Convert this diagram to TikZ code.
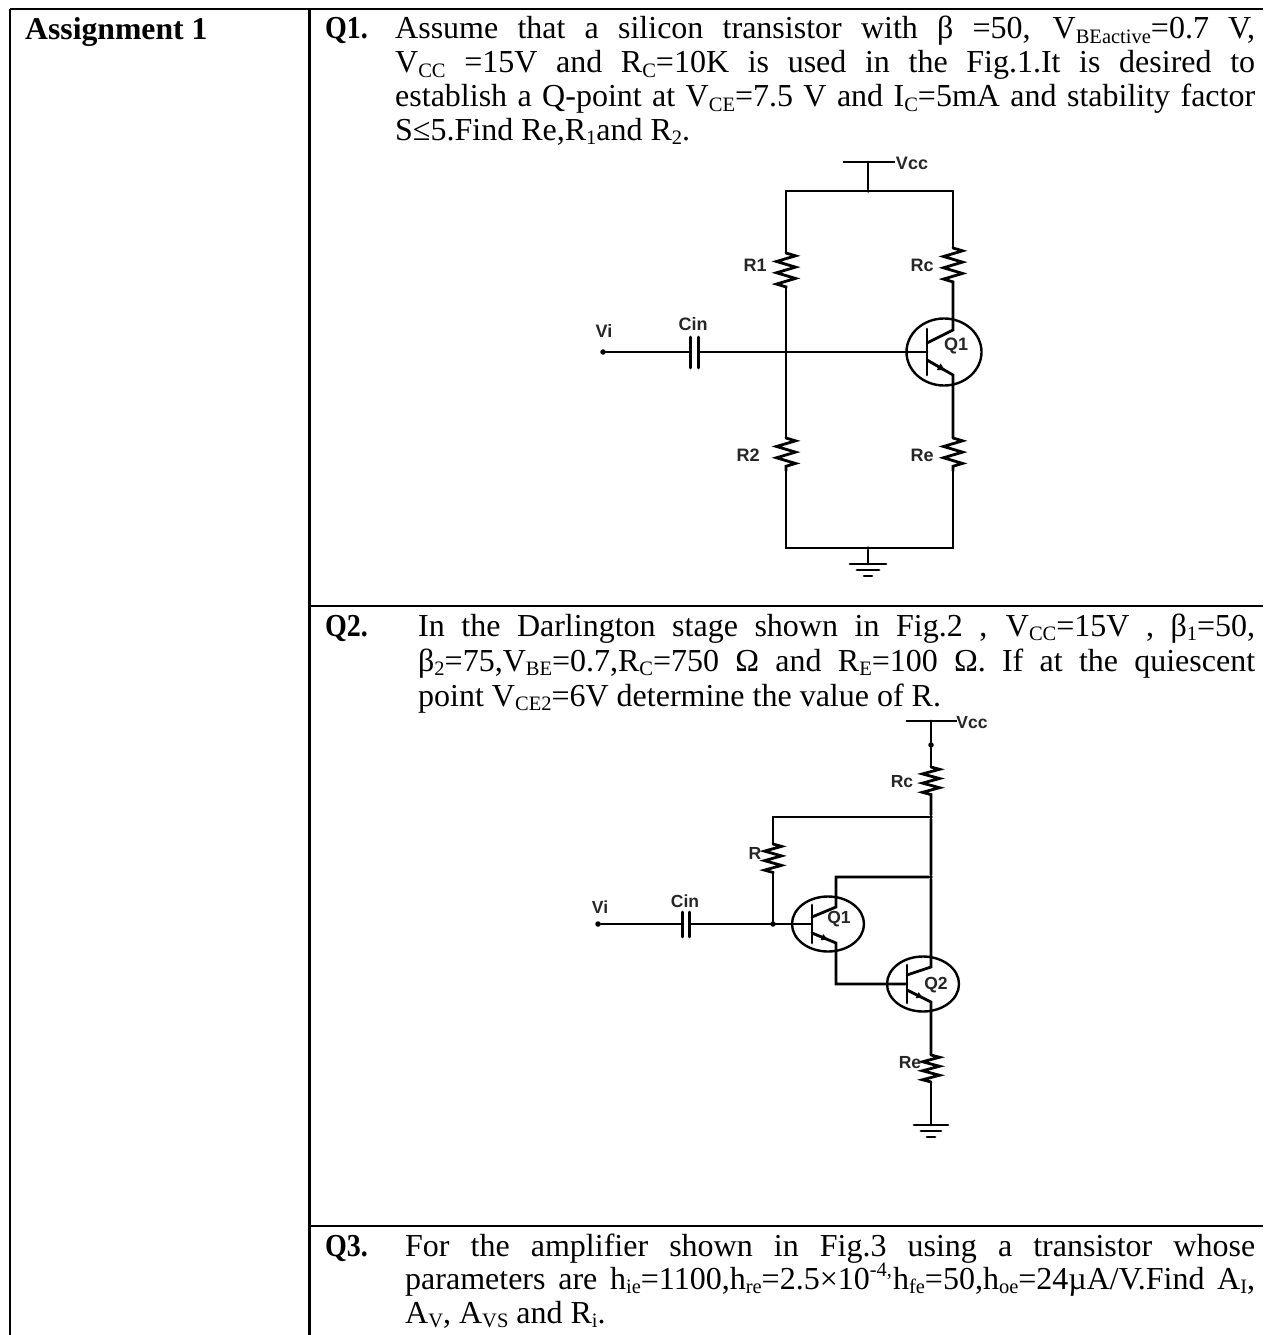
\documentclass[tikz,border=0pt]{standalone}
\usepackage{fontspec}
\setmainfont{Liberation Serif}
\newfontfamily\labfont{Liberation Sans}
\usetikzlibrary{shapes.geometric,decorations.pathmorphing,arrows.meta,calc}
\newcommand\sbs[1]{\raisebox{-0.14em}{\fontsize{20.5}{20.5}\selectfont #1}}
\newcommand\sps[1]{\raisebox{0.42em}{\fontsize{20.5}{20.5}\selectfont #1}}
\newcommand\qtxt[1]{\scalebox{.875}[1]{#1}}
\tikzset{
  rule/.style={line width=2.6pt,black},
  wire/.style={line width=2.8pt,black,line cap=round,line join=miter},
  thinw/.style={line width=2.2pt,black},
  txt/.style={anchor=base west,inner sep=0pt,font=\fontsize{32}{32}\selectfont},
  hd/.style={anchor=base west,inner sep=0pt,font=\fontsize{31.7}{31.7}\selectfont\bfseries},
  qlab/.style={anchor=base west,inner sep=0pt,font=\fontsize{32}{32}\selectfont\bfseries},
  lab/.style={inner sep=0pt,font=\labfont\bfseries\fontsize{18}{18}\selectfont,text=black!85},
  labs/.style={inner sep=0pt,font=\labfont\bfseries\fontsize{17.5}{17.5}\selectfont,text=black!85},
  dot/.style={circle,fill=black,inner sep=0pt,minimum size=5.5pt},
  res/.style={decorate,decoration={zigzag,amplitude=#1,segment length=11.3pt}},
  res/.default=9.5pt,
  trans/.style={ellipse,draw,line width=2.4pt,inner sep=0pt,minimum width=75pt,minimum height=67pt},
  transs/.style={ellipse,draw,line width=2.4pt,inner sep=0pt,minimum width=72pt,minimum height=55pt},
}
\begin{document}
\begin{tikzpicture}[x=1pt,y=-1pt]
\useasboundingbox (0,0) rectangle (1263,1335);
\fill[white] (0,0) rectangle (1263,1335);
% table
\coordinate (tl) at (10,9); \coordinate (tr) at (1263,9);
\coordinate (bl) at (10,1335); \coordinate (st) at (309.5,9); \coordinate (sb) at (309.5,1335);
\coordinate (r1) at (309.5,606); \coordinate (r1e) at (1263,606);
\coordinate (r2) at (309.5,1226); \coordinate (r2e) at (1263,1226);
\draw[rule] (tl) -- (tr);
\draw[rule] (tl) -- (bl);
\draw[rule] (st) -- (sb);
\draw[rule] (r1) -- (r1e);
\draw[rule] (r2) -- (r2e);
% texts
\node[hd] (head) at (25,40) {Assignment 1};
\node[qlab] (q1t) at (325,39) {\qtxt{Q1.}};
\node[txt] (a1) at (395,39) {\hbox to 860pt{Assume that a silicon transistor with β =50, V\sbs{BEactive}=0.7 V,}};
\node[txt] (a2) at (395,73) {\hbox to 860pt{V\sbs{CC} =15V and R\sbs{C}=10K is used in the Fig.1.It is desired to}};
\node[txt] (a3) at (395,107) {\hbox to 860pt{establish a Q-point at V\sbs{CE}=7.5 V and I\sbs{C}=5mA and stability factor}};
\node[txt] (a4) at (395,140) {S≤5.Find Re,R\sbs{1}and R\sbs{2}.};
\node[qlab] (q2t) at (325,636.5) {\qtxt{Q2.}};
\node[txt] (b1) at (418,636.5) {\hbox to 837pt{In the Darlington stage shown in Fig.2 , V\sbs{CC}=15V , β\sbs{1}=50,}};
\node[txt] (b2) at (418,671.5) {\hbox to 837pt{β\sbs{2}=75,V\sbs{BE}=0.7,R\sbs{C}=750 Ω and R\sbs{E}=100 Ω. If at the quiescent}};
\node[txt] (b3) at (418,706.5) {point V\sbs{CE2}=6V determine the value of R.};
\node[qlab] (q3t) at (325,1256.5) {\qtxt{Q3.}};
\node[txt] (c1) at (405,1256.5) {\hbox to 850pt{For the amplifier shown in Fig.3 using a transistor whose}};
\node[txt] (c2) at (405,1289.5) {\hbox to 850pt{parameters are h\sbs{ie}=1100,h\sbs{re}=2.5×10\sps{-4,}\kern1pt h\sbs{fe}=50,h\sbs{oe}=24µA/V.Find A\sbs{I},}};
\node[txt] (c3) at (405,1323) {A\sbs{V}, A\sbs{VS} and R\sbs{i}.};

% ---------- circuit 1 ----------
\coordinate (vbl) at (843,162); \coordinate (vbr) at (895,162);
\coordinate (vst) at (868,162);
\node[dot,minimum size=3.5pt] (vn) at (868,191) {};
\coordinate (tlc) at (786,191); \coordinate (trc) at (953,191);
\node[lab] (vcc1) at (912,163.5) {Vcc};
\draw[thinw] (vbl) -- (vbr);
\draw[wire] (vst) -- (vn);
\coordinate (r1a) at (786,253); \coordinate (r1b) at (786,288);
\coordinate (rca) at (953,248); \coordinate (rcb) at (953,282);
\coordinate (r2a) at (786,438); \coordinate (r2b) at (786,471);
\coordinate (rea) at (953,438); \coordinate (reb) at (953,471);
\node[dot,minimum size=3.5pt] (jn) at (786,352) {};
\node[dot] (vi1) at (603,352) {};
\coordinate (cl) at (690.5,352); \coordinate (cr) at (698.5,352);
\coordinate (clt) at (690.5,337); \coordinate (clb) at (690.5,368);
\coordinate (crt) at (698.5,337); \coordinate (crb) at (698.5,368);
\node[trans] (q1) at (944,352) {};
\coordinate (b1b) at (927,352);
\coordinate (bt) at (927,329); \coordinate (bb) at (927,375);
\coordinate (ci) at (927,343); \coordinate (co) at (953,330);
\coordinate (ei) at (927,360); \coordinate (eo) at (953,375);
\coordinate (blc) at (786,548); \coordinate (brc) at (953,548);
\node[dot,minimum size=3.5pt] (gn) at (868,548) {};
\coordinate (gs) at (868,564);
\coordinate (g1l) at (850,564); \coordinate (g1r) at (886,564);
\coordinate (g2l) at (857,570); \coordinate (g2r) at (879,570);
\coordinate (g3l) at (864,576); \coordinate (g3r) at (872,576);

\draw[wire] (r1a) -- (tlc) -- (trc) -- (rca);
\draw[wire,res] (r1a) -- (r1b);
\draw[wire,res] (rca) -- (rcb);
\draw[wire] (r1b) -- (r2a);
\draw[wire] (rcb) -- (co) -- (ci);
\draw[wire,res] (r2a) -- (r2b);
\draw[wire,res] (rea) -- (reb);
\draw[wire] (r2b) -- (blc) -- (brc) -- (reb);
\draw[wire] (rea) -- (eo) -- (ei);
\draw[wire] (vi1) -- (cl);
\draw[wire] (cr) -- (b1b);
\draw[wire] (clt) -- (clb);
\draw[wire] (crt) -- (crb);
\draw[wire] (bt) -- (bb);
\draw[thinw,-{Latex[length=9pt,width=8pt]}] (ei) -- ($(ei)!0.75!(eo)$);
\draw[wire] (gn) -- (gs);
\draw[wire] (g1l) -- (g1r);
\draw[wire] (g2l) -- (g2r);
\draw[wire] (g3l) -- (g3r);
\node[lab] (lr1) at (755,265) {R1};
\node[lab] (lrc) at (922,265) {Rc};
\node[lab] (lr2) at (748,455) {R2};
\node[lab] (lre) at (922,455) {Re};
\node[lab] (lvi) at (604,331) {Vi};
\node[lab] (lcin) at (693,324) {Cin};
\node[lab] (lq1) at (956,346) {Q1};

% ---------- circuit 2 ----------
\coordinate (xbl) at (906,721); \coordinate (xbr) at (957,721);
\coordinate (xst) at (931,721);
\node[dot] (xn) at (931,745) {};
\node[labs] (vcc2) at (972,722.5) {Vcc};
\draw[thinw] (xbl) -- (xbr);
\coordinate (xra) at (931,767); \coordinate (xrb) at (931,795);
\node[dot,minimum size=3.5pt] (xj1) at (931,817) {};
\coordinate (xc1) at (773,817);
\coordinate (xra2) at (773,844); \coordinate (xrb2) at (773,873);
\node[dot] (xj2) at (773,924) {};
\node[dot] (vi2) at (598,924) {};
\coordinate (dl) at (682.5,924); \coordinate (dr) at (689.5,924);
\coordinate (dlt) at (682.5,912); \coordinate (dlb) at (682.5,937);
\coordinate (drt) at (689.5,912); \coordinate (drb) at (689.5,937);
\node[dot,minimum size=3.5pt] (xj3) at (931,877) {};
\coordinate (xc2) at (836,877);
\node[transs] (q1b) at (828,924) {};
\coordinate (xb1) at (812,924);
\coordinate (xb1t) at (812,905); \coordinate (xb1b) at (812,943);
\coordinate (xc1i) at (812,917); \coordinate (xc1o) at (836,907);
\coordinate (xe1i) at (812,933); \coordinate (xe1o) at (836,943);
\coordinate (xk) at (836,984);
\node[transs] (q2b) at (923,984) {};
\coordinate (xb2) at (907,984);
\coordinate (xb2t) at (907,965); \coordinate (xb2b) at (907,1003);
\coordinate (xc2i) at (907,975); \coordinate (xc2o) at (931,967);
\coordinate (xe2i) at (907,990); \coordinate (xe2o) at (931,1002);
\coordinate (xea) at (931,1055); \coordinate (xeb) at (931,1082);
\coordinate (xgs) at (931,1125);
\coordinate (xg1l) at (914,1125); \coordinate (xg1r) at (948,1125);
\coordinate (xg2l) at (921,1131); \coordinate (xg2r) at (941,1131);
\coordinate (xg3l) at (927,1137); \coordinate (xg3r) at (935,1137);

\draw[wire] (xst) -- (xn) -- (xra);
\draw[wire,res=8.5pt,decoration={segment length=9.2pt}] (xra) -- (xrb);
\draw[wire] (xrb) -- (xj1) -- (xj3) -- (xc2o) -- (xc2i);
\draw[wire] (xj1) -- (xc1) -- (xra2);
\draw[wire,res=8.5pt,decoration={segment length=9.5pt}] (xra2) -- (xrb2);
\draw[wire] (xrb2) -- (xj2);
\draw[wire] (vi2) -- (dl);
\draw[wire] (dr) -- (xb1);
\draw[wire] (dlt) -- (dlb);
\draw[wire] (drt) -- (drb);
\draw[wire] (xj3) -- (xc2) -- (xc1o) -- (xc1i);
\draw[wire] (xb1t) -- (xb1b);
\draw[wire] (xe1i) -- (xe1o) -- (xk) -- (xb2);
\draw[thinw,-{Latex[length=8pt,width=7pt]}] (xe1i) -- ($(xe1i)!0.72!(xe1o)$);
\draw[wire] (xb2t) -- (xb2b);
\draw[wire] (xe2i) -- (xe2o) -- (xea);
\draw[thinw,-{Latex[length=8pt,width=7pt]}] (xe2i) -- ($(xe2i)!0.72!(xe2o)$);
\draw[wire,res=8.5pt,decoration={segment length=9pt}] (xea) -- (xeb);
\draw[wire] (xeb) -- (xgs);
\draw[wire] (xg1l) -- (xg1r);
\draw[wire] (xg2l) -- (xg2r);
\draw[wire] (xg3l) -- (xg3r);
\node[labs] (xlrc) at (902,782) {Rc};
\node[labs] (xlr) at (755,853) {R};
\node[labs] (xlre) at (910,1063) {Re};
\node[labs] (xlvi) at (600,907) {Vi};
\node[labs] (xlcin) at (685,901) {Cin};
\node[labs] (xlq1) at (839,919) {Q1};
\node[labs] (xlq2) at (936,985) {Q2};
\end{tikzpicture}
\end{document}
